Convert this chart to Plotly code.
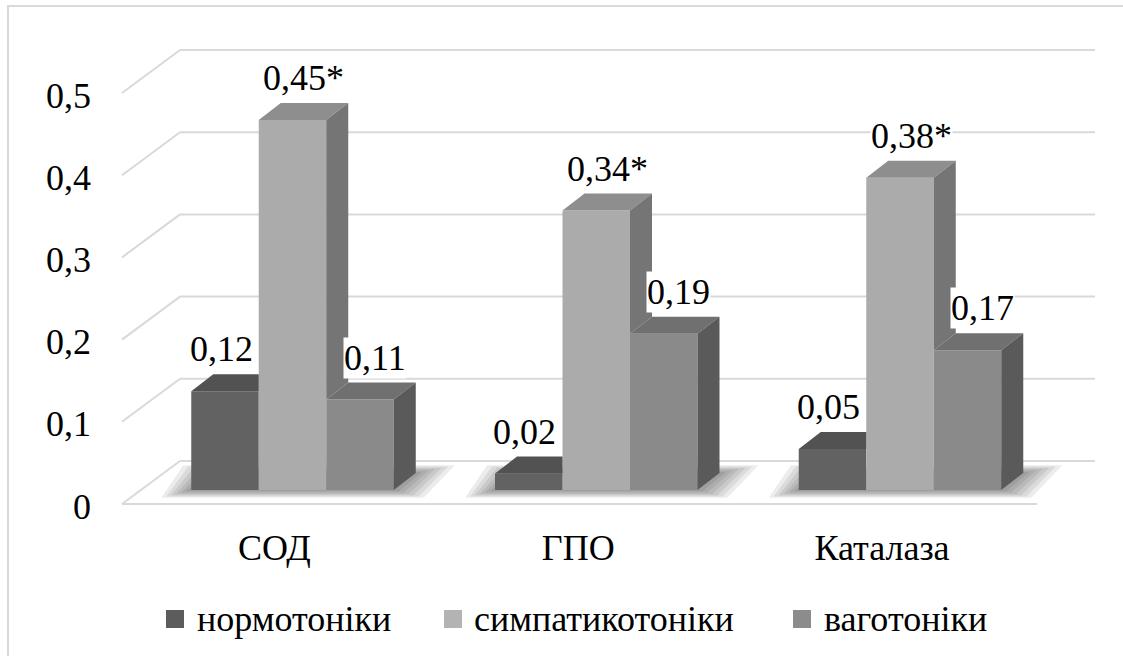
import plotly.graph_objects as go

# ---- data -------------------------------------------------------------
categories = ["СОД", "ГПО", "Каталаза"]
series_names = ["нормотоніки", "симпатикотоніки", "ваготоніки"]
normotonics = [0.12, 0.02, 0.05]
sympathicotonics = [0.45, 0.34, 0.38]
vagotonics = [0.11, 0.19, 0.17]
normotonics_marks = ["", "", ""]
sympathicotonics_marks = ["*", "*", "*"]
vagotonics_marks = ["", "", ""]
y_ticks = [0, 0.1, 0.2, 0.3, 0.4, 0.5]

series_values = [normotonics, sympathicotonics, vagotonics]
series_marks = [normotonics_marks, sympathicotonics_marks, vagotonics_marks]

# ---- styling ----------------------------------------------------------
FONT = "Liberation Serif, Tinos, DejaVu Serif, serif"
FS = 36
GRID = "#d9d9d9"
face_colors = [
    dict(front="#626262", top="#525252", side="#474747", legend="#5c5c5c"),
    dict(front="#ababab", top="#8e8e8e", side="#757575", legend="#b3b3b3"),
    dict(front="#8a8a8a", top="#707070", side="#5a5a5a", legend="#8c8c8c"),
]
label_dx_px = [-4, 11, 15]

# ---- page geometry ----------------------------------------------------
W, H = 1123, 656
M_L, M_B = 92, 136
X_UNIT = 303.75      # px per category step
GROUP0_PX = 292.5    # px of first category centre
Y_UNIT = 822.0       # px per value unit
ZERO_PX = 490.0      # px of value 0 on the bar plane


def dxu(px):
    return px / X_UNIT


def dyu(px):
    return px / Y_UNIT


def paper_x(px):
    return (px - M_L) / (W - M_L)


def paper_y(py):
    return (H - M_B - py) / (H - M_B)


x_range = [dxu(M_L - GROUP0_PX), dxu(W - GROUP0_PX)]
y_range = [-dyu(H - M_B - ZERO_PX), dyu(ZERO_PX)]

BAR_W = 2 / 9                 # three bars fill two thirds of a category
BAR_DX, BAR_DY = dxu(22), dyu(17)   # oblique depth of a bar
WALL_X0, WALL_X1 = dxu(180 - GROUP0_PX), dxu(1095 - GROUP0_PX)
FLOOR_X0, FLOOR_X1 = dxu(122 - GROUP0_PX), dxu(1037 - GROUP0_PX)
BACK_OFF, FRONT_OFF = dyu(29), dyu(14)

fig = go.Figure()
shapes = []

# outer frame
shapes.append(dict(type="rect", xref="paper", yref="paper",
                   x0=paper_x(8), y0=paper_y(6), x1=paper_x(W + 6), y1=paper_y(H + 6),
                   line=dict(color=GRID, width=2), layer="below"))

# back wall gridlines and left-wall diagonals
for v in y_ticks:
    shapes.append(dict(type="line", xref="x", yref="y", x0=WALL_X0, x1=WALL_X1,
                       y0=v + BACK_OFF, y1=v + BACK_OFF,
                       line=dict(color=GRID, width=2), layer="below"))
    shapes.append(dict(type="line", xref="x", yref="y", x0=FLOOR_X0, x1=WALL_X0,
                       y0=v - FRONT_OFF, y1=v + BACK_OFF,
                       line=dict(color=GRID, width=2), layer="below"))
shapes.append(dict(type="line", xref="x", yref="y", x0=FLOOR_X0, x1=FLOOR_X1,
                   y0=y_ticks[0] - FRONT_OFF, y1=y_ticks[0] - FRONT_OFF,
                   line=dict(color=GRID, width=2), layer="below"))

# soft floor shadow under every group of bars
n_series = len(series_values)
for i in range(len(categories)):
    gx0 = i - n_series * BAR_W / 2
    gx1 = i + n_series * BAR_W / 2
    for step in range(1, 7):
        ex, ey = dxu(5 * step), dyu(1.3 * step)
        path = (f"M{gx0 - ex},{-ey} L{gx1 + ex},{-ey} "
                f"L{gx1 + BAR_DX + ex * 1.3},{BAR_DY + ey} L{gx0 + BAR_DX - ex},{BAR_DY + ey} Z")
        shapes.append(dict(type="path", xref="x", yref="y", path=path,
                           fillcolor="rgba(0,0,0,0.075)", line=dict(width=0), layer="below"))

# front faces of the bars
for k, (name, vals) in enumerate(zip(series_names, series_values)):
    xs = [i + (k - (n_series - 1) / 2) * BAR_W for i in range(len(categories))]
    fig.add_trace(go.Bar(x=xs, y=vals, width=BAR_W, name=name,
                         marker=dict(color=face_colors[k]["front"], line=dict(width=0)),
                         showlegend=False, hoverinfo="skip"))

# top and side faces (only the parts not hidden by the neighbour on the right)
for k, vals in enumerate(series_values):
    top_x, top_y, side_x, side_y = [], [], [], []
    for i, v in enumerate(vals):
        xc = i + (k - (n_series - 1) / 2) * BAR_W
        xl, xr = xc - BAR_W / 2, xc + BAR_W / 2
        vn = series_values[k + 1][i] if k + 1 < n_series else None
        if vn is not None and vn > v:
            top_x += [xl, xr, xr, xl + BAR_DX, None]
            top_y += [v, v, v + BAR_DY, v + BAR_DY, None]
        else:
            top_x += [xl, xr, xr + BAR_DX, xl + BAR_DX, None]
            top_y += [v, v, v + BAR_DY, v + BAR_DY, None]
        low = 0 if vn is None else vn
        if vn is None or vn < v:
            side_x += [xr, xr, xr + BAR_DX, xr + BAR_DX, None]
            side_y += [low, v, v + BAR_DY, low + BAR_DY, None]
    for fx, fy, col in ((top_x, top_y, face_colors[k]["top"]),
                        (side_x, side_y, face_colors[k]["side"])):
        if fx:
            fig.add_trace(go.Scatter(x=fx, y=fy, mode="lines", fill="toself",
                                     fillcolor=col, line=dict(width=0),
                                     showlegend=False, hoverinfo="skip"))

# value labels
annotations = []
for k, (vals, marks) in enumerate(zip(series_values, series_marks)):
    for i, (v, m) in enumerate(zip(vals, marks)):
        xc = i + (k - (n_series - 1) / 2) * BAR_W
        text = f"{v:.2f}".replace(".", ",") + m
        annotations.append(dict(x=xc + dxu(label_dx_px[k]), y=v + BAR_DY,
                                xref="x", yref="y", text=text, showarrow=False,
                                xanchor="center", yanchor="bottom", yshift=4,
                                bgcolor="white", borderpad=0,
                                font=dict(family=FONT, size=FS, color="black")))

# legend
legend_square_px = [166, 444, 793]
legend_text_px = [195, 472, 822]
LEG_Y = 619
for k, name in enumerate(series_names):
    shapes.append(dict(type="rect", xref="paper", yref="paper",
                       x0=paper_x(legend_square_px[k]), x1=paper_x(legend_square_px[k] + 18),
                       y0=paper_y(LEG_Y - 9), y1=paper_y(LEG_Y + 9),
                       fillcolor=face_colors[k]["legend"], line=dict(width=0)))
    annotations.append(dict(x=paper_x(legend_text_px[k]), y=paper_y(LEG_Y),
                            xref="paper", yref="paper", text=name, showarrow=False,
                            xanchor="left", yanchor="middle",
                            font=dict(family=FONT, size=FS, color="black")))

fig.update_layout(
    width=W, height=H,
    margin=dict(l=M_L, r=0, t=0, b=M_B),
    paper_bgcolor="white", plot_bgcolor="white",
    separators=", ",
    barmode="overlay",
    shapes=shapes, annotations=annotations,
    font=dict(family=FONT, size=FS, color="black"),
    xaxis=dict(range=x_range, showgrid=False, zeroline=False, showline=False,
               tickmode="array", tickvals=list(range(len(categories))), ticktext=categories,
               ticks="", ticklabelshift=-18, ticklabelstandoff=3,
               tickfont=dict(family=FONT, size=FS, color="black")),
    yaxis=dict(range=y_range, showgrid=False, zeroline=False, showline=False,
               tickmode="array", tickvals=y_ticks,
               ticktext=[f"{t:g}".replace(".", ",") for t in y_ticks],
               ticks="", ticklabelshift=16,
               tickfont=dict(family=FONT, size=FS, color="black")),
)

fig.write_html("out.html")
